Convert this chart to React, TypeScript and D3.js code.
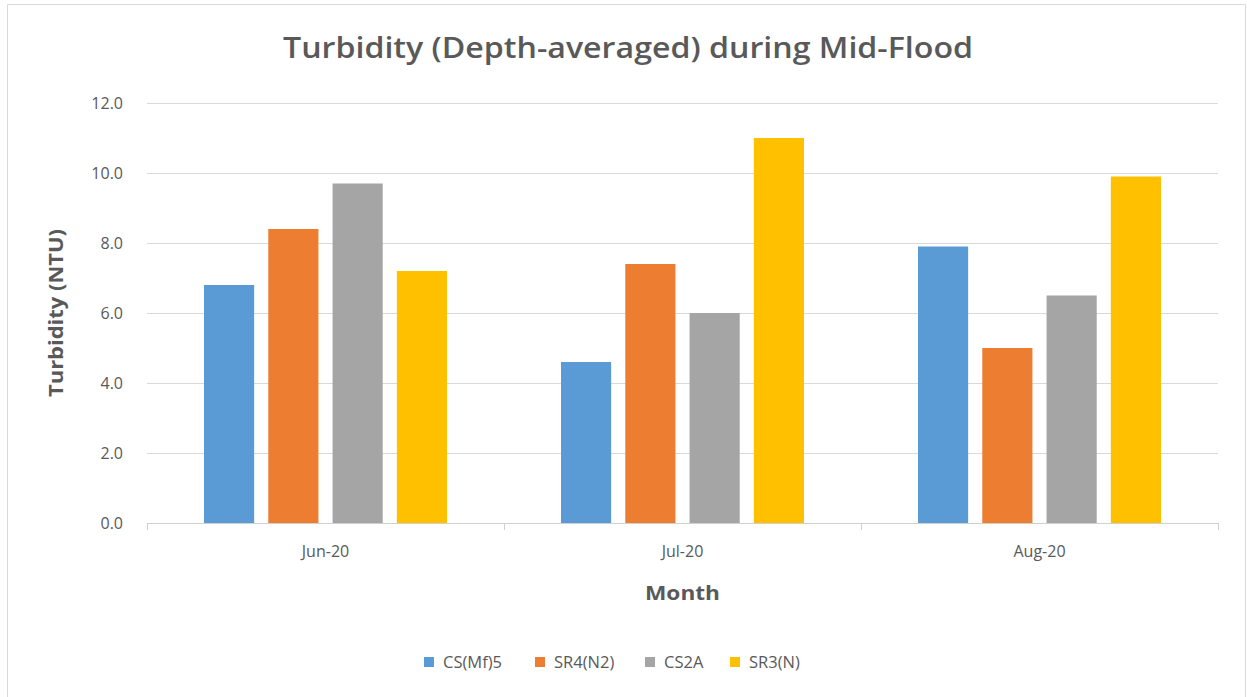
import React from "react";
import * as d3 from "d3";

const months = ["Jun-20", "Jul-20", "Aug-20"];
const seriesNames = ["CS(Mf)5", "SR4(N2)", "CS2A", "SR3(N)"];
const seriesColors = ["#5b9bd5", "#ed7d31", "#a5a5a5", "#ffc000"];
const csMf5 = [6.8, 4.6, 7.9];
const sr4N2 = [8.4, 7.4, 5.0];
const cs2a = [9.7, 6.0, 6.5];
const sr3N = [7.2, 11.0, 9.9];
const yTicks = [0, 2, 4, 6, 8, 10, 12];

const seriesValues = [csMf5, sr4N2, cs2a, sr3N];

const W = 1247;
const H = 697;
const plot = { left: 147, right: 1218, top: 103, bottom: 523 };
const textColor = "#595959";
const font = "'Open Sans', 'Noto Sans', sans-serif";

export default function App() {
  const y = d3.scaleLinear().domain([0, 12]).range([plot.bottom, plot.top]);
  const x0 = d3.scaleBand<string>().domain(months).range([plot.left, plot.right]).paddingInner(0).paddingOuter(0);
  const groupW = 243;
  const x1 = d3
    .scaleBand<string>()
    .domain(seriesNames)
    .range([(x0.bandwidth() - groupW) / 2, (x0.bandwidth() + groupW) / 2])
    .paddingInner(0.22)
    .paddingOuter(0);

  const legendX = [424, 535, 645, 730];

  return (
    <svg
      width={W}
      height={H}
      style={{ position: "absolute", left: 0, top: 0, background: "#fff" }}
      fontFamily={font}
    >
      <rect x={0} y={0} width={W} height={H} fill="#fff" />
      <path d={`M7.5,${H} V4.5 H1245.5 V${H}`} fill="none" stroke="#d9d9d9" strokeWidth={1} />

      <text
        x={628}
        y={58}
        textAnchor="middle"
        fontSize={28}
        fontWeight={600}
        fill={textColor}
        textLength={690}
        lengthAdjust="spacingAndGlyphs"
      >
        Turbidity (Depth-averaged) during Mid-Flood
      </text>

      {yTicks.map((t) => (
        <g key={t}>
          <line
            x1={plot.left}
            x2={plot.right}
            y1={Math.round(y(t)) + 0.5}
            y2={Math.round(y(t)) + 0.5}
            stroke={t === 0 ? "#d0d0d0" : "#d9d9d9"}
            strokeWidth={1}
          />
          <text x={123} y={y(t) + 6} textAnchor="end" fontSize={16} fill={textColor}>
            {t.toFixed(1)}
          </text>
        </g>
      ))}

      {[...months.map((m) => x0(m)!), plot.right].map((xv, i) => (
        <line
          key={i}
          x1={Math.round(xv) + 0.5}
          x2={Math.round(xv) + 0.5}
          y1={plot.bottom}
          y2={plot.bottom + 7}
          stroke="#d0d0d0"
        />
      ))}

      {months.map((m, mi) => (
        <g key={m} transform={`translate(${x0(m)},0)`}>
          {seriesNames.map((s, si) => (
            <rect
              key={s}
              x={x1(s)}
              y={y(seriesValues[si][mi])}
              width={x1.bandwidth()}
              height={plot.bottom - y(seriesValues[si][mi])}
              fill={seriesColors[si]}
            />
          ))}
          <text
            x={x0.bandwidth() / 2}
            y={557}
            textAnchor="middle"
            fontSize={16}
            fill={textColor}
          >
            {m}
          </text>
        </g>
      ))}

      <text
        x={(plot.left + plot.right) / 2}
        y={600}
        textAnchor="middle"
        fontSize={20}
        fontWeight={700}
        fill={textColor}
        textLength={75}
        lengthAdjust="spacingAndGlyphs"
      >
        Month
      </text>

      <text
        transform={`translate(63,${(plot.top + plot.bottom) / 2}) rotate(-90)`}
        textAnchor="middle"
        fontSize={19}
        fontWeight={700}
        fill={textColor}
        textLength={168}
        lengthAdjust="spacingAndGlyphs"
      >
        Turbidity (NTU)
      </text>

      {seriesNames.map((s, i) => (
        <g key={s} transform={`translate(${legendX[i]},0)`}>
          <rect x={0} y={657} width={10} height={10} fill={seriesColors[i]} />
          <text x={19} y={668} fontSize={16.5} fill={textColor}>
            {s}
          </text>
        </g>
      ))}
    </svg>
  );
}
